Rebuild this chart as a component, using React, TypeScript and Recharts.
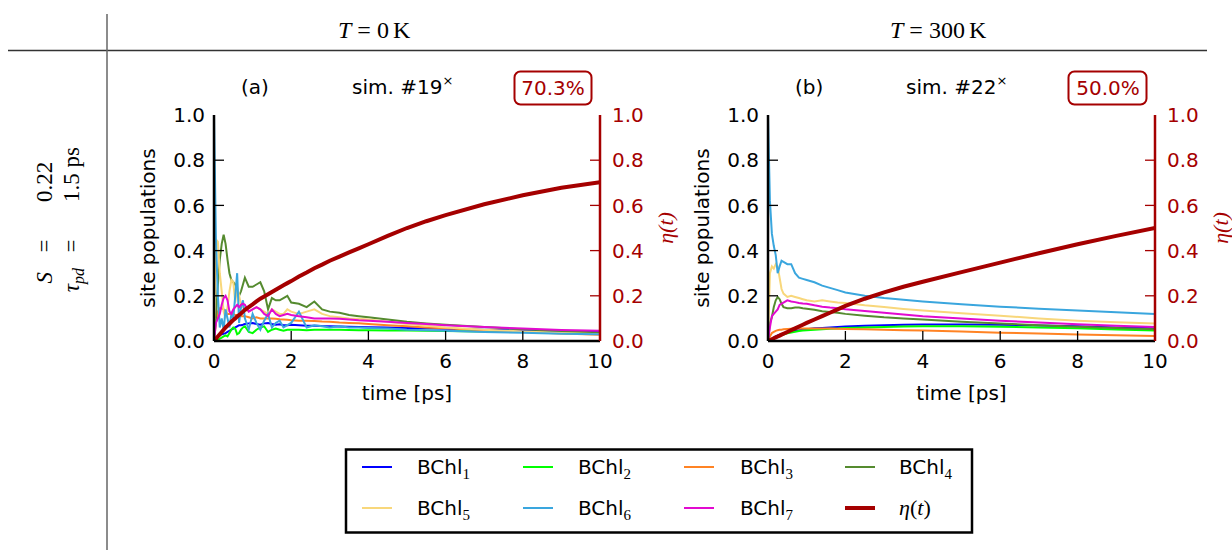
import React from 'react';
import { ComposedChart, Line, XAxis, YAxis } from 'recharts';

// ---------- panel (a): T = 0 K, sim. #19 ----------
const timeA = [0, 0.05, 0.1, 0.15, 0.2, 0.25, 0.3, 0.35, 0.4, 0.45, 0.5, 0.55, 0.6, 0.65, 0.7, 0.75, 0.8, 0.9, 1.0, 1.1, 1.2, 1.3, 1.4, 1.5, 1.6, 1.7, 1.8, 1.9, 2.0, 2.2, 2.4, 2.6, 2.8, 3.0, 3.25, 3.5, 3.75, 4.0, 4.5, 5.0, 5.5, 6.0, 7.0, 8.0, 9.0, 10.0];
const bchl1A = [0, 0.01, 0.02, 0.025, 0.03, 0.032, 0.035, 0.04, 0.045, 0.05, 0.055, 0.06, 0.065, 0.07, 0.07, 0.072, 0.075, 0.078, 0.08, 0.075, 0.072, 0.078, 0.08, 0.075, 0.072, 0.074, 0.07, 0.07, 0.072, 0.07, 0.068, 0.068, 0.066, 0.065, 0.064, 0.063, 0.062, 0.061, 0.06, 0.058, 0.056, 0.054, 0.05, 0.046, 0.042, 0.04];
const bchl2A = [0, 0, 0.005, 0.01, 0.015, 0.02, 0.025, 0.02, 0.035, 0.05, 0.06, 0.055, 0.03, 0.035, 0.05, 0.06, 0.065, 0.04, 0.035, 0.05, 0.06, 0.065, 0.04, 0.05, 0.055, 0.05, 0.045, 0.05, 0.05, 0.05, 0.048, 0.05, 0.05, 0.05, 0.05, 0.049, 0.048, 0.048, 0.047, 0.046, 0.045, 0.044, 0.042, 0.04, 0.037, 0.035];
const bchl3A = [0, 0.08, 0.13, 0.145, 0.145, 0.14, 0.13, 0.12, 0.12, 0.12, 0.12, 0.115, 0.115, 0.11, 0.11, 0.11, 0.11, 0.105, 0.1, 0.105, 0.1, 0.1, 0.1, 0.1, 0.098, 0.096, 0.095, 0.094, 0.092, 0.09, 0.09, 0.088, 0.086, 0.085, 0.082, 0.08, 0.078, 0.075, 0.07, 0.065, 0.06, 0.056, 0.048, 0.04, 0.033, 0.028];
const bchl4A = [0, 0.1, 0.25, 0.36, 0.43, 0.47, 0.43, 0.36, 0.3, 0.27, 0.26, 0.25, 0.22, 0.2, 0.22, 0.25, 0.28, 0.24, 0.24, 0.25, 0.26, 0.22, 0.14, 0.19, 0.18, 0.18, 0.19, 0.2, 0.17, 0.165, 0.15, 0.175, 0.14, 0.13, 0.125, 0.115, 0.11, 0.105, 0.095, 0.085, 0.078, 0.072, 0.062, 0.052, 0.044, 0.037];
const bchl5A = [0, 0.45, 0.44, 0.3, 0.22, 0.13, 0.1, 0.15, 0.22, 0.27, 0.26, 0.17, 0.24, 0.2, 0.16, 0.15, 0.14, 0.13, 0.14, 0.15, 0.14, 0.13, 0.12, 0.14, 0.13, 0.12, 0.12, 0.14, 0.13, 0.12, 0.13, 0.14, 0.12, 0.11, 0.105, 0.1, 0.098, 0.095, 0.085, 0.075, 0.068, 0.06, 0.05, 0.042, 0.035, 0.03];
const bchl6A = [1.0, 0.45, 0.2, 0.06, 0.1, 0.05, 0.14, 0.1, 0.06, 0.12, 0.1, 0.2, 0.3, 0.08, 0.15, 0.18, 0.1, 0.05, 0.12, 0.08, 0.05, 0.09, 0.12, 0.06, 0.08, 0.09, 0.06, 0.07, 0.08, 0.13, 0.06, 0.07, 0.065, 0.06, 0.065, 0.06, 0.06, 0.058, 0.055, 0.05, 0.048, 0.045, 0.04, 0.036, 0.032, 0.03];
const bchl7A = [0, 0.08, 0.1, 0.12, 0.16, 0.19, 0.2, 0.18, 0.13, 0.12, 0.14, 0.15, 0.16, 0.15, 0.16, 0.165, 0.16, 0.13, 0.14, 0.15, 0.14, 0.12, 0.11, 0.14, 0.12, 0.11, 0.115, 0.12, 0.115, 0.11, 0.105, 0.1, 0.1, 0.1, 0.098, 0.095, 0.092, 0.09, 0.085, 0.08, 0.075, 0.07, 0.062, 0.055, 0.049, 0.045];
const etaA = [0, 0.01, 0.02, 0.03, 0.04, 0.05, 0.06, 0.068, 0.076, 0.085, 0.093, 0.1, 0.108, 0.115, 0.122, 0.13, 0.138, 0.15, 0.162, 0.175, 0.187, 0.197, 0.207, 0.217, 0.227, 0.237, 0.247, 0.256, 0.265, 0.285, 0.303, 0.322, 0.338, 0.355, 0.373, 0.392, 0.41, 0.428, 0.465, 0.5, 0.53, 0.557, 0.605, 0.645, 0.678, 0.703];

// ---------- panel (b): T = 300 K, sim. #22 ----------
const timeB = [0, 0.05, 0.1, 0.15, 0.2, 0.25, 0.3, 0.35, 0.4, 0.5, 0.6, 0.7, 0.8, 0.9, 1.0, 1.2, 1.4, 1.6, 1.8, 2.0, 2.5, 3.0, 3.5, 4.0, 5.0, 6.0, 7.0, 8.0, 9.0, 10.0];
const bchl1B = [0, 0.005, 0.01, 0.015, 0.02, 0.025, 0.028, 0.03, 0.033, 0.038, 0.042, 0.045, 0.048, 0.05, 0.052, 0.056, 0.058, 0.06, 0.062, 0.064, 0.068, 0.07, 0.072, 0.073, 0.073, 0.072, 0.069, 0.065, 0.06, 0.056];
const bchl2B = [0, 0.004, 0.008, 0.012, 0.016, 0.02, 0.023, 0.026, 0.029, 0.034, 0.038, 0.041, 0.044, 0.046, 0.048, 0.05, 0.052, 0.054, 0.055, 0.057, 0.06, 0.062, 0.064, 0.065, 0.065, 0.063, 0.06, 0.056, 0.051, 0.047];
const bchl3B = [0, 0.02, 0.035, 0.04, 0.045, 0.048, 0.05, 0.05, 0.052, 0.053, 0.054, 0.055, 0.055, 0.055, 0.055, 0.055, 0.055, 0.055, 0.054, 0.053, 0.052, 0.05, 0.048, 0.046, 0.042, 0.037, 0.033, 0.029, 0.025, 0.022];
const bchl4B = [0, 0.08, 0.105, 0.15, 0.18, 0.195, 0.185, 0.165, 0.15, 0.145, 0.145, 0.148, 0.148, 0.145, 0.143, 0.138, 0.132, 0.128, 0.125, 0.12, 0.112, 0.105, 0.1, 0.095, 0.085, 0.077, 0.07, 0.063, 0.057, 0.052];
const bchl5B = [0, 0.3, 0.33, 0.32, 0.34, 0.33, 0.28, 0.23, 0.21, 0.195, 0.2, 0.195, 0.19, 0.185, 0.18, 0.175, 0.18, 0.175, 0.17, 0.168, 0.158, 0.15, 0.142, 0.135, 0.123, 0.112, 0.1, 0.09, 0.083, 0.077];
const bchl6B = [1.0, 0.62, 0.475, 0.42, 0.38, 0.3, 0.33, 0.355, 0.35, 0.34, 0.34, 0.3, 0.28, 0.275, 0.27, 0.26, 0.245, 0.235, 0.225, 0.215, 0.2, 0.19, 0.182, 0.175, 0.163, 0.152, 0.143, 0.135, 0.127, 0.12];
const bchl7B = [0, 0.06, 0.11, 0.12, 0.13, 0.14, 0.16, 0.165, 0.17, 0.18, 0.175, 0.172, 0.168, 0.166, 0.165, 0.158, 0.152, 0.148, 0.145, 0.14, 0.133, 0.125, 0.117, 0.11, 0.1, 0.09, 0.082, 0.074, 0.068, 0.062];
const etaB = [0, 0.004, 0.008, 0.012, 0.016, 0.02, 0.024, 0.028, 0.032, 0.04, 0.048, 0.056, 0.064, 0.072, 0.08, 0.095, 0.11, 0.125, 0.14, 0.155, 0.187, 0.215, 0.24, 0.262, 0.305, 0.347, 0.388, 0.428, 0.465, 0.5];

// ---------- shared styling ----------
const siteKeys = ['s1', 's2', 's3', 's4', 's5', 's6', 's7'];
const siteColors = ['#0000ff', '#00ff00', '#ff8324', '#558b2f', '#f8d77b', '#3aa6de', '#e20ad0'];
const ETA_COLOR = '#a50000';
const xTicks = [0, 2, 4, 6, 8, 10];
const yTicks = [0, 0.2, 0.4, 0.6, 0.8, 1.0];

const SANS = "'DejaVu Sans', sans-serif";
const SERIF = "'Liberation Serif', 'DejaVu Serif', serif";
const TICK_LEN = 10;
const LEFT_GAP = 9;
const RIGHT_GAP = 12;

function buildRows(time: number[], sites: number[][], eta: number[]) {
  return time.map((t, i) => {
    const row: Record<string, number> = { t, eta: eta[i] };
    siteKeys.forEach((k, j) => {
      row[k] = sites[j][i];
    });
    return row;
  });
}

const rowsA = buildRows(timeA, [bchl1A, bchl2A, bchl3A, bchl4A, bchl5A, bchl6A, bchl7A], etaA);
const rowsB = buildRows(timeB, [bchl1B, bchl2B, bchl3B, bchl4B, bchl5B, bchl6B, bchl7B], etaB);

const inner = (v: number, lo: number, hi: number) => v > lo + 1e-9 && v < hi - 1e-9;

const LeftTick = (props: any) => {
  const { x, y, payload } = props;
  const ax = x + LEFT_GAP;
  const v = payload.value as number;
  return (
    <g>
      {inner(v, 0, 1) && <line x1={ax} x2={ax + TICK_LEN} y1={y} y2={y} stroke="#000" strokeWidth={1.3} />}
      <text x={x} y={y} dy="0.36em" textAnchor="end" fontSize={20} fontFamily={SANS} fill="#000">
        {v.toFixed(1)}
      </text>
    </g>
  );
};

const RightTick = (props: any) => {
  const { x, y, payload } = props;
  const ax = x - RIGHT_GAP;
  const v = payload.value as number;
  return (
    <g>
      {inner(v, 0, 1) && <line x1={ax - TICK_LEN} x2={ax} y1={y} y2={y} stroke={ETA_COLOR} strokeWidth={1.3} />}
      <text x={x} y={y} dy="0.36em" textAnchor="start" fontSize={20} fontFamily={SANS} fill={ETA_COLOR}>
        {v.toFixed(1)}
      </text>
    </g>
  );
};

const BottomTick = (props: any) => {
  const { x, y, payload } = props;
  const v = payload.value as number;
  return (
    <g>
      {inner(v, 0, 10) && <line x1={x} x2={x} y1={y} y2={y - TICK_LEN} stroke="#000" strokeWidth={1.3} />}
      <text x={x} y={y + 27} textAnchor="middle" fontSize={20} fontFamily={SANS} fill="#000">
        {v}
      </text>
    </g>
  );
};

const TopTick = (props: any) => {
  const { x, y, payload } = props;
  const v = payload.value as number;
  if (!inner(v, 0, 10)) return <g />;
  return <line x1={x} x2={x} y1={y} y2={y + TICK_LEN} stroke="#000" strokeWidth={1.3} />;
};

type PanelProps = {
  left: number;
  rows: Record<string, number>[];
  rightWidth: number;
  plotWidth: number;
  etaOffset: number;
};

const CHART_TOP = 60;
const LEFT_AXIS_W = 84;
const X_AXIS_H = 70;
const PLOT_H = 226;
const MARGIN_TOP = 55;

function Panel({ left, rows, rightWidth, plotWidth, etaOffset }: PanelProps) {
  const width = LEFT_AXIS_W + plotWidth + rightWidth;
  const height = MARGIN_TOP + PLOT_H + X_AXIS_H;
  return (
    <div style={{ position: 'absolute', left, top: CHART_TOP }}>
      <ComposedChart width={width} height={height} data={rows} margin={{ top: MARGIN_TOP, right: 0, bottom: 0, left: 0 }}>
        <XAxis
          xAxisId="bottom"
          dataKey="t"
          type="number"
          domain={[0, 10]}
          ticks={xTicks}
          allowDataOverflow
          height={X_AXIS_H}
          tickSize={0}
          tickMargin={0}
          tickLine={false}
          tick={BottomTick}
          axisLine={{ stroke: '#000', strokeWidth: 2.5 }}
          label={{ value: 'time [ps]', position: 'insideBottom', offset: 11, fontSize: 20, fontFamily: SANS, fill: '#000' }}
        />
        <XAxis
          xAxisId="top"
          orientation="top"
          type="number"
          domain={[0, 10]}
          ticks={xTicks}
          allowDataOverflow
          height={0}
          tickSize={0}
          tickMargin={0}
          tickLine={false}
          tick={TopTick}
          axisLine={{ stroke: '#000', strokeWidth: 2.5 }}
        />
        <YAxis
          yAxisId="pop"
          orientation="left"
          type="number"
          domain={[0, 1]}
          ticks={yTicks}
          allowDataOverflow
          width={LEFT_AXIS_W}
          tickSize={0}
          tickMargin={LEFT_GAP}
          tickLine={false}
          tick={LeftTick}
          axisLine={{ stroke: '#000', strokeWidth: 2.5 }}
          label={{
            value: 'site populations',
            angle: -90,
            position: 'insideLeft',
            offset: 18,
            fontSize: 20,
            fontFamily: SANS,
            fill: '#000',
            style: { textAnchor: 'middle' },
          }}
        />
        <YAxis
          yAxisId="eta"
          orientation="right"
          type="number"
          domain={[0, 1]}
          ticks={yTicks}
          allowDataOverflow
          width={rightWidth}
          tickSize={0}
          tickMargin={RIGHT_GAP}
          tickLine={false}
          tick={RightTick}
          axisLine={{ stroke: ETA_COLOR, strokeWidth: 2.5 }}
          label={{
            value: 'η(t)',
            angle: -90,
            position: 'insideRight',
            offset: etaOffset,
            fontSize: 22,
            fontFamily: SERIF,
            fontStyle: 'italic',
            fill: ETA_COLOR,
            style: { textAnchor: 'middle' },
          }}
        />
        {siteKeys.map((k, j) => (
          <Line
            key={k}
            xAxisId="bottom"
            yAxisId="pop"
            type="linear"
            dataKey={k}
            stroke={siteColors[j]}
            strokeWidth={2}
            dot={false}
            isAnimationActive={false}
          />
        ))}
        <Line
          xAxisId="bottom"
          yAxisId="eta"
          type="linear"
          dataKey="eta"
          stroke={ETA_COLOR}
          strokeWidth={4}
          dot={false}
          isAnimationActive={false}
        />
      </ComposedChart>
    </div>
  );
}

const legendRows = [
  [
    { label: '1', color: siteColors[0] },
    { label: '2', color: siteColors[1] },
    { label: '3', color: siteColors[2] },
    { label: '4', color: siteColors[3] },
  ],
  [
    { label: '5', color: siteColors[4] },
    { label: '6', color: siteColors[5] },
    { label: '7', color: siteColors[6] },
    { label: 'eta', color: ETA_COLOR },
  ],
];
const legendLineX = [362, 523, 684, 845];
const legendTextX = [417, 578, 740, 899];
const legendRowY = [467, 508];

function Decorations() {
  return (
    <svg width={1232} height={550} style={{ position: 'absolute', left: 0, top: 0 }}>
      {/* table rules */}
      <line x1={8} x2={1207} y1={50.5} y2={50.5} stroke="#333" strokeWidth={1.6} />
      <line x1={107} x2={107} y1={14} y2={550} stroke="#666" strokeWidth={1.5} />

      {/* column headers */}
      <text x={338} y={38} fontSize={24} fontFamily={SERIF} fill="#000">
        <tspan fontStyle="italic">T</tspan>
        <tspan dx={6}>=</tspan>
        <tspan dx={6}>0</tspan>
        <tspan dx={4}>K</tspan>
      </text>
      <text x={890} y={38} fontSize={24} fontFamily={SERIF} fill="#000">
        <tspan fontStyle="italic">T</tspan>
        <tspan dx={6}>=</tspan>
        <tspan dx={6}>300</tspan>
        <tspan dx={4}>K</tspan>
      </text>

      {/* row parameters */}
      <g transform="rotate(-90)" fontFamily={SERIF} fontSize={23} fill="#000">
        <text x={-272} y={52} textAnchor="end" fontStyle="italic">S</text>
        <text x={-246} y={52} textAnchor="middle">=</text>
        <text x={-202} y={52} textAnchor="start">0.22</text>
        <text x={-268} y={79} textAnchor="end">
          <tspan fontStyle="italic">τ</tspan>
          <tspan fontStyle="italic" fontSize={16} dy={5}>pd</tspan>
        </text>
        <text x={-246} y={79} textAnchor="middle">=</text>
        <text x={-202} y={79} textAnchor="start">1.5 ps</text>
      </g>

      {/* panel titles */}
      <g fontFamily={SANS} fontSize={20} fill="#000">
        <text x={241} y={94}>(a)</text>
        <text x={352} y={94}>
          sim. #19<tspan fontSize={13} dy={-9}>×</tspan>
        </text>
        <text x={795} y={94}>(b)</text>
        <text x={906} y={94}>
          sim. #22<tspan fontSize={13} dy={-9}>×</tspan>
        </text>
      </g>
      <rect x={514.5} y={71.5} width={77} height={33} rx={6} fill="none" stroke={ETA_COLOR} strokeWidth={2} />
      <text x={553} y={95} textAnchor="middle" fontFamily={SANS} fontSize={20} fill={ETA_COLOR}>70.3%</text>
      <rect x={1068.5} y={71.5} width={78} height={33} rx={6} fill="none" stroke={ETA_COLOR} strokeWidth={2} />
      <text x={1108} y={95} textAnchor="middle" fontFamily={SANS} fontSize={20} fill={ETA_COLOR}>50.0%</text>

      {/* legend */}
      <rect x={346} y={449.5} width={626} height={83} fill="#fff" stroke="#000" strokeWidth={2.5} />
      {legendRows.map((row, r) =>
        row.map((item, c) => (
          <g key={`${r}-${c}`}>
            <line
              x1={legendLineX[c]}
              x2={legendLineX[c] + 30}
              y1={legendRowY[r]}
              y2={legendRowY[r]}
              stroke={item.color}
              strokeWidth={item.label === 'eta' ? 4 : 2}
            />
            {item.label === 'eta' ? (
              <text x={legendTextX[c]} y={legendRowY[r] + 7} fontFamily={SERIF} fontSize={22} fill="#000">
                <tspan fontStyle="italic">η</tspan>(<tspan fontStyle="italic">t</tspan>)
              </text>
            ) : (
              <text x={legendTextX[c]} y={legendRowY[r] + 7} fontFamily={SANS} fontSize={20} fill="#000">
                BChl
                <tspan fontFamily={SERIF} fontSize={15} dy={5}>
                  {item.label}
                </tspan>
              </text>
            )}
          </g>
        ))
      )}
    </svg>
  );
}

export default function App() {
  return (
    <div style={{ position: 'absolute', left: 0, top: 0, width: 1232, height: 550, background: '#fff', overflow: 'hidden' }}>
      <Decorations />
      <Panel left={130} rows={rowsA} plotWidth={386} rightWidth={90} etaOffset={25} />
      <Panel left={684} rows={rowsB} plotWidth={387} rightWidth={77} etaOffset={12} />
    </div>
  );
}
